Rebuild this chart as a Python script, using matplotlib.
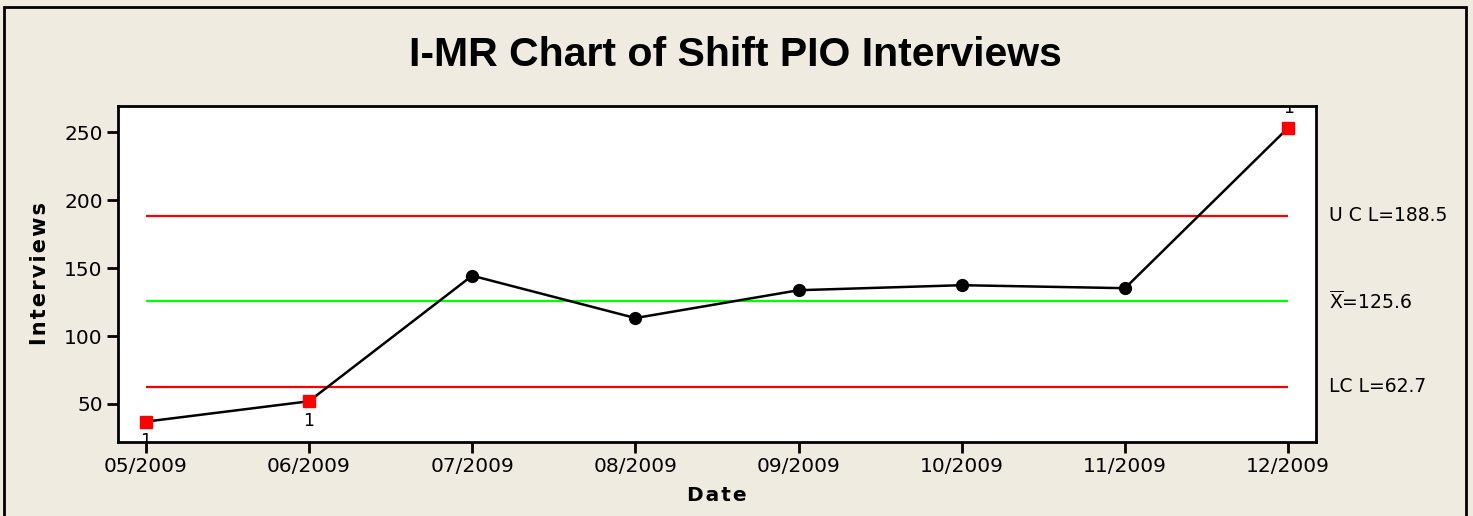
import matplotlib.pyplot as plt
from matplotlib.patches import Rectangle
import numpy as np

# data
dates = ['05/2009', '06/2009', '07/2009', '08/2009',
         '09/2009', '10/2009', '11/2009', '12/2009']
interviews = [37.0, 52.0, 144.5, 113.3, 133.8, 137.5, 135.3, 253.5]
out_of_control = [True, True, False, False, False, False, False, True]
flag_above = [False, False, False, False, False, False, False, True]

ucl = 188.5
center = 125.6
lcl = 62.7

BG = '#EFEBE0'
HAIR = '\u200a'

fig = plt.figure(figsize=(14.73, 5.16), dpi=100, facecolor=BG)
ax = fig.add_axes([0.0801, 0.1434, 0.8133, 0.6512])
ax.set_facecolor('white')

x = np.arange(len(dates))
ax.plot(x, interviews, color='black', lw=1.8, zorder=2)

ok = [i for i in x if not out_of_control[i]]
bad = [i for i in x if out_of_control[i]]
ax.plot(ok, [interviews[i] for i in ok], 'o', color='black', ms=8.5, zorder=3)
ax.plot(bad, [interviews[i] for i in bad], 's', color='red', ms=8.5,
        mec='red', zorder=3)

for i in bad:
    dy = 14 if flag_above[i] else -14
    ax.annotate('1', (x[i], interviews[i]), xytext=(0, dy),
                textcoords='offset points', ha='center', va='center',
                fontsize=12.5, clip_on=True, annotation_clip=True)

ax.hlines([ucl, lcl], x[0], x[-1], colors='red', lw=1.6, zorder=1)
ax.hlines(center, x[0], x[-1], colors='#00FF00', lw=1.6, zorder=1)

ax.set_xlim(-0.17, 7.17)
ax.set_ylim(22, 269.5)
ax.set_yticks([50, 100, 150, 200, 250])
ax.set_xticks(x)
ax.set_xticklabels(dates)
ax.tick_params(direction='out', length=8, width=2, labelsize=14.5, pad=3)

for sp in ax.spines.values():
    sp.set_linewidth(2)

ax.set_xlabel(HAIR.join('Date'), fontsize=14.5, fontweight='bold', labelpad=7)
ax.set_ylabel(HAIR.join('Interviews'), fontsize=15, fontweight='bold',
              labelpad=10)

# control limit labels outside the plot area
trans = ax.get_yaxis_transform()
ax.text(1.011, ucl, 'U C L=188.5', transform=trans, va='center', ha='left',
        fontsize=13.5, clip_on=False)
ax.text(1.011, center, r'$\mathregular{\overline{X}}$=125.6', transform=trans,
        va='center', ha='left', fontsize=13.5, clip_on=False)
ax.text(1.011, lcl, 'LC L=62.7', transform=trans, va='center', ha='left',
        fontsize=13.5, clip_on=False)

fig.text(0.499, 0.893, 'I-MR Chart of Shift PIO Interviews',
         ha='center', va='center', fontsize=29.5, fontweight='bold',
         family=['Liberation Sans', 'DejaVu Sans'])

# outer frame
fig.patches.append(Rectangle((4 / 1473, -0.05), 1462 / 1473, 1.05 - 7 / 516,
                             transform=fig.transFigure, fill=False,
                             edgecolor='black', lw=2))

fig.savefig('out.png', dpi=100, facecolor=BG)
